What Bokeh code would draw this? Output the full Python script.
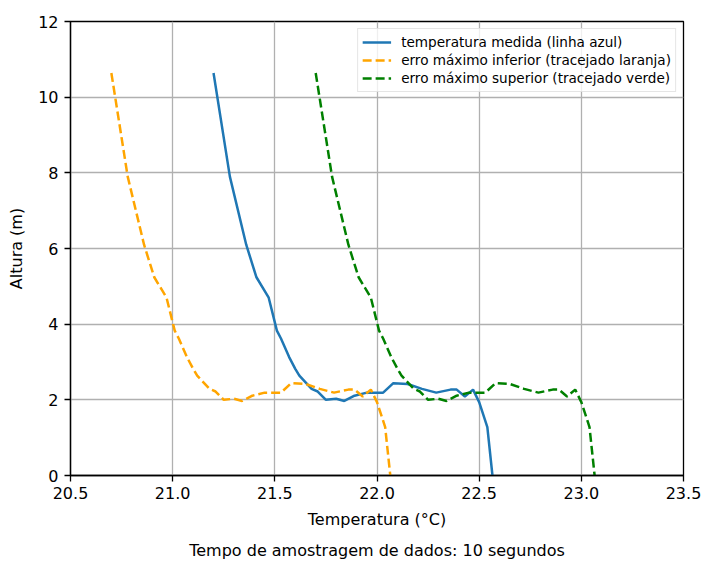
from bokeh.plotting import figure
from bokeh.models import Range1d, FixedTicker, PrintfTickFormatter, Legend, LegendItem, Title
from bokeh.embed import file_html
from bokeh.resources import INLINE

# data
alturas = [10.64, 7.90, 6.10, 5.24, 4.70, 3.83, 3.62, 3.13, 2.82, 2.64, 2.29, 2.22, 2.00, 2.03,
           1.97, 2.11, 2.19, 2.19, 2.44, 2.42, 2.29, 2.19, 2.27, 2.27, 2.09, 2.27, 1.94, 1.28, 0.00]
temperatura = [21.200, 21.280, 21.360, 21.410, 21.470, 21.510, 21.530, 21.570, 21.600, 21.620,
               21.680, 21.710, 21.750, 21.800, 21.840, 21.890, 21.950, 22.030, 22.080, 22.150,
               22.220, 22.290, 22.360, 22.390, 22.430, 22.470, 22.500, 22.540, 22.565]
erro_inferior = [20.700, 20.780, 20.860, 20.910, 20.970, 21.010, 21.030, 21.070, 21.100, 21.120,
                 21.180, 21.210, 21.250, 21.300, 21.340, 21.390, 21.450, 21.530, 21.580, 21.650,
                 21.720, 21.790, 21.860, 21.890, 21.930, 21.970, 22.000, 22.040, 22.065]
erro_superior = [21.700, 21.780, 21.860, 21.910, 21.970, 22.010, 22.030, 22.070, 22.100, 22.120,
                 22.180, 22.210, 22.250, 22.300, 22.340, 22.390, 22.450, 22.530, 22.580, 22.650,
                 22.720, 22.790, 22.860, 22.890, 22.930, 22.970, 23.000, 23.040, 23.065]
x_ticks = [20.5, 21.0, 21.5, 22.0, 22.5, 23.0, 23.5]
y_ticks = [0, 2, 4, 6, 8, 10, 12]
legenda = ["temperatura medida (linha azul)",
           "erro máximo inferior (tracejado laranja)",
           "erro máximo superior (tracejado verde)"]
legenda_rodape = "Tempo de amostragem de dados: 10 segundos"

FONT = "DejaVu Sans"
FS = "16px"

p = figure(width=702, height=566, output_backend="svg", toolbar_location=None,
           x_range=Range1d(20.5, 23.5), y_range=Range1d(0, 12),
           min_border_left=70, min_border_right=19, min_border_top=21, min_border_bottom=91)

p.background_fill_color = "white"
p.border_fill_color = "white"
p.outline_line_color = "black"
p.outline_line_width = 1.3
p.outline_line_alpha = 1.0

for ax in (p.xaxis[0], p.yaxis[0]):
    ax.axis_line_color = "black"
    ax.axis_line_width = 1.3
    ax.major_tick_line_width = 1.3
    ax.major_tick_out = 6
    ax.major_tick_in = 0
    ax.minor_tick_line_color = None
    ax.major_label_text_font = FONT
    ax.major_label_text_font_size = FS
    ax.major_label_text_color = "black"
    ax.axis_label_text_font = FONT
    ax.axis_label_text_font_size = FS
    ax.axis_label_text_font_style = "normal"
    ax.axis_label_text_color = "black"

p.xaxis.ticker = FixedTicker(ticks=x_ticks)
p.xaxis.formatter = PrintfTickFormatter(format="%.1f")
p.yaxis.ticker = FixedTicker(ticks=y_ticks)
p.yaxis.formatter = PrintfTickFormatter(format="%d")
p.xaxis.axis_label = "Temperatura (°C)"
p.yaxis.axis_label = "Altura (m)"
p.xaxis.major_label_standoff = 5
p.yaxis.major_label_standoff = 6
p.xaxis.axis_label_standoff = 8
p.yaxis.axis_label_standoff = 9

p.xgrid.ticker = FixedTicker(ticks=x_ticks)
p.ygrid.ticker = FixedTicker(ticks=y_ticks)
p.grid.grid_line_color = "#b0b0b0"
p.grid.grid_line_width = 1.3

r_blue = p.line(temperatura, alturas, line_color="#1f77b4", line_width=2.5)
r_or = p.line(erro_inferior, alturas, line_color="orange", line_width=2.5, line_dash="9 4")
r_gr = p.line(erro_superior, alturas, line_color="green", line_width=2.5, line_dash="9 4")

legend = Legend(items=[
    LegendItem(label=legenda[0], renderers=[r_blue]),
    LegendItem(label=legenda[1], renderers=[r_or]),
    LegendItem(label=legenda[2], renderers=[r_gr]),
], location="top_right")
legend.label_text_font = FONT
legend.label_text_font_size = "13.6px"
legend.label_text_color = "black"
legend.glyph_width = 29
legend.glyph_height = 18
legend.label_height = 18
legend.label_standoff = 10
legend.spacing = 0
legend.padding = 4
legend.margin = 7
legend.border_line_color = "#cccccc"
legend.border_line_width = 1
legend.background_fill_alpha = 0.8
p.add_layout(legend)

cap = Title(text=legenda_rodape, align="center", standoff=14,
            text_font=FONT, text_font_size=FS, text_font_style="normal", text_color="black")
p.add_layout(cap, "below")

open("out.html", "w").write(file_html(p, INLINE))
